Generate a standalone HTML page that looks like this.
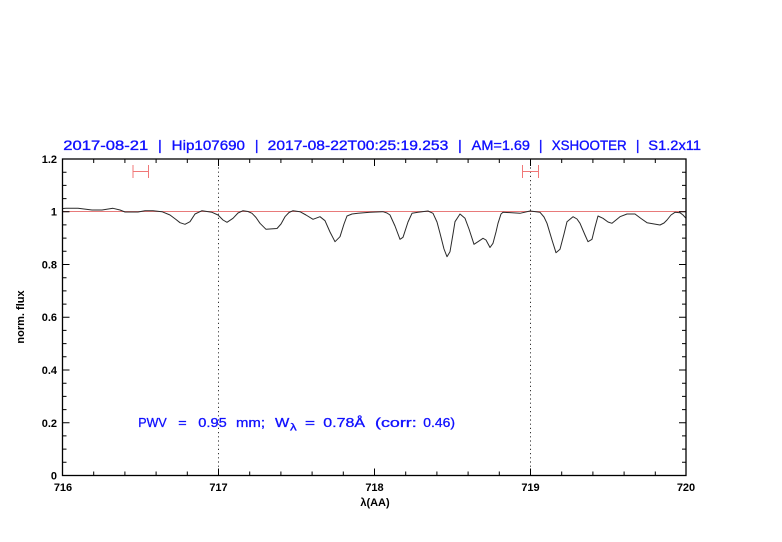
<!DOCTYPE html>
<html>
<head>
<meta charset="utf-8">
<style>
html,body{margin:0;padding:0;background:#fff;}
svg{display:block;}
text{font-family:"Liberation Sans",Arial,sans-serif;}
</style>
</head>
<body>
<svg width="782" height="542" viewBox="0 0 782 542" xmlns="http://www.w3.org/2000/svg">
<rect width="782" height="542" fill="#fff"/>

<!-- title -->
<g font-size="14" fill="#1010ff" stroke="#1010ff" stroke-width="0.35">
<text x="63.3" y="150" textLength="85" lengthAdjust="spacingAndGlyphs">2017-08-21</text>
<text x="160" y="150" text-anchor="middle">|</text>
<text x="171.7" y="150" textLength="73.3" lengthAdjust="spacingAndGlyphs">Hip107690</text>
<text x="256.7" y="150" text-anchor="middle">|</text>
<text x="267.7" y="150" textLength="180.6" lengthAdjust="spacingAndGlyphs">2017-08-22T00:25:19.253</text>
<text x="460" y="150" text-anchor="middle">|</text>
<text x="471.7" y="150" textLength="58.3" lengthAdjust="spacingAndGlyphs">AM=1.69</text>
<text x="540.7" y="150" text-anchor="middle">|</text>
<text x="551.7" y="150" textLength="75" lengthAdjust="spacingAndGlyphs">XSHOOTER</text>
<text x="637.7" y="150" text-anchor="middle">|</text>
<text x="648.3" y="150" textLength="52.7" lengthAdjust="spacingAndGlyphs">S1.2x11</text>
</g>

<!-- reference line at 1 -->
<line x1="62.5" y1="211.5" x2="686" y2="211.5" stroke="#e87a7a" stroke-width="1"/>

<!-- dotted verticals -->
<line x1="218.5" y1="159" x2="218.5" y2="475.5" stroke="#333" stroke-width="1" stroke-dasharray="1.2,3"/>
<line x1="530.5" y1="159" x2="530.5" y2="475.5" stroke="#333" stroke-width="1" stroke-dasharray="1.2,3"/>

<!-- error bars -->
<g stroke="#f07878" stroke-width="1" fill="none">
<line x1="133" y1="171.5" x2="148.5" y2="171.5"/>
<line x1="133" y1="165" x2="133" y2="178"/>
<line x1="148.5" y1="165" x2="148.5" y2="178"/>
<line x1="522.5" y1="171.5" x2="538.5" y2="171.5"/>
<line x1="522.5" y1="165" x2="522.5" y2="178"/>
<line x1="538.5" y1="165" x2="538.5" y2="178"/>
</g>

<!-- spectrum -->
<polyline fill="none" stroke="#2a2a2a" stroke-width="1" stroke-linejoin="round" points="63,208.5 66,208.3 78,208.3 92,210 102,210 113,208.3 120,210 125,212 138,212 145,210.7 153,210.7 162,211.7 170,215 176,219.5 180,222.7 185,224.3 190,221.7 195,214 202,210.7 212,212.3 218,215 223,220 227,222.3 233,218.3 238,213 243,210.7 248,211.5 252,213.3 256,217.5 260,223.3 266,229.3 277,228.5 281,224 285,216.7 289,212.5 293,210.7 300,211.7 306,215 313,219.3 320,216.7 325,220.7 330,232 335,241.7 340,236.7 344,224 347,216 352,214 358,213.3 370,212.3 383,211.7 387,213 390,215 395,226 400,239.3 403,237.3 408,222 412,213.3 418,212.3 428,211 433,213.3 437,222 440,233.3 444,249 447,256.7 450,251.7 453,234 455,221.7 460,214 465,218.3 469,229 474,244.3 478,241.7 483,238.3 486,240 490,247.5 493,243.3 496,232 498,223.3 501,214 503,212.3 512,212.7 520,213.3 530,211 540,212.3 544,217 547,223.3 552,240 556,252.7 560,249.3 564,234 567,221.7 573,216.7 577,219 580,223.3 585,235 588,241.7 592,239.3 595,227 598,216 603,218.3 608,222 612,223.3 620,216.7 627,214 635,214 641,218.5 647,222.7 660,225 664,223 667,220 671,215 675,212.3 680,212.7 683,215 686,218.3"/>

<!-- frame -->
<rect x="62.5" y="159" width="623.5" height="316.5" fill="none" stroke="#000" stroke-width="1.3"/>

<!-- ticks -->
<g stroke="#000" stroke-width="1">
<path d="M93.7,475.5v-4 M124.9,475.5v-4 M156.1,475.5v-4 M187.3,475.5v-4 M218.5,475.5v-7
M249.7,475.5v-4 M280.9,475.5v-4 M312.1,475.5v-4 M343.3,475.5v-4 M374.5,475.5v-7
M405.7,475.5v-4 M436.9,475.5v-4 M468.1,475.5v-4 M499.3,475.5v-4 M530.5,475.5v-7
M561.7,475.5v-4 M592.9,475.5v-4 M624.1,475.5v-4 M655.3,475.5v-4"/>
<path d="M93.7,159v4 M124.9,159v4 M156.1,159v4 M187.3,159v4 M218.5,159v7
M249.7,159v4 M280.9,159v4 M312.1,159v4 M343.3,159v4 M374.5,159v7
M405.7,159v4 M436.9,159v4 M468.1,159v4 M499.3,159v4 M530.5,159v7
M561.7,159v4 M592.9,159v4 M624.1,159v4 M655.3,159v4"/>
<path d="M62.5,462.3h4 M62.5,449.1h4 M62.5,435.9h4 M62.5,422.8h7
M62.5,409.6h4 M62.5,396.4h4 M62.5,383.2h4 M62.5,370h7
M62.5,356.8h4 M62.5,343.6h4 M62.5,330.4h4 M62.5,317.3h7
M62.5,304.1h4 M62.5,290.9h4 M62.5,277.7h4 M62.5,264.5h7
M62.5,251.3h4 M62.5,238.1h4 M62.5,224.9h4 M62.5,211.75h7
M62.5,198.6h4 M62.5,185.4h4 M62.5,172.2h4"/>
<path d="M686,462.3h-4 M686,449.1h-4 M686,435.9h-4 M686,422.8h-7
M686,409.6h-4 M686,396.4h-4 M686,383.2h-4 M686,370h-7
M686,356.8h-4 M686,343.6h-4 M686,330.4h-4 M686,317.3h-7
M686,304.1h-4 M686,290.9h-4 M686,277.7h-4 M686,264.5h-7
M686,251.3h-4 M686,238.1h-4 M686,224.9h-4 M686,211.75h-7
M686,198.6h-4 M686,185.4h-4 M686,172.2h-4"/>
</g>

<!-- y labels -->
<g font-size="11" font-weight="bold" fill="#000" text-anchor="end">
<text x="57" y="163">1.2</text>
<text x="57" y="215.5">1</text>
<text x="57" y="268.5">0.8</text>
<text x="57" y="321">0.6</text>
<text x="57" y="374">0.4</text>
<text x="57" y="427">0.2</text>
<text x="57" y="479.5">0</text>
</g>

<!-- x labels -->
<g font-size="11" font-weight="bold" fill="#000" text-anchor="middle">
<text x="63" y="491">716</text>
<text x="218.5" y="491">717</text>
<text x="374.5" y="491">718</text>
<text x="530.5" y="491">719</text>
<text x="686" y="491">720</text>
</g>

<text x="375" y="506" font-size="11" font-weight="bold" fill="#000" text-anchor="middle">λ(AA)</text>
<text x="0" y="0" font-size="11" font-weight="bold" fill="#000" text-anchor="middle" transform="translate(24,317) rotate(-90)">norm. flux</text>

<!-- PWV annotation -->
<g font-size="13" fill="#1010ff" stroke="#1010ff" stroke-width="0.3">
<text x="138.3" y="427" textLength="28.4" lengthAdjust="spacingAndGlyphs">PWV</text>
<text x="178.3" y="427" textLength="8.4" lengthAdjust="spacingAndGlyphs">=</text>
<text x="198.3" y="427" textLength="28.4" lengthAdjust="spacingAndGlyphs">0.95</text>
<text x="236" y="427" textLength="29" lengthAdjust="spacingAndGlyphs">mm;</text>
<text x="275" y="427" textLength="14.3" lengthAdjust="spacingAndGlyphs">W</text>
<text x="290" y="430.5" font-size="10" textLength="6.7" lengthAdjust="spacingAndGlyphs">λ</text>
<text x="305" y="427" textLength="10" lengthAdjust="spacingAndGlyphs">=</text>
<text x="323.3" y="427" textLength="41.7" lengthAdjust="spacingAndGlyphs">0.78Å</text>
<text x="375" y="427" textLength="41.7" lengthAdjust="spacingAndGlyphs">(corr:</text>
<text x="423.3" y="427" textLength="31.7" lengthAdjust="spacingAndGlyphs">0.46)</text>
</g>
</svg>
</body>
</html>
